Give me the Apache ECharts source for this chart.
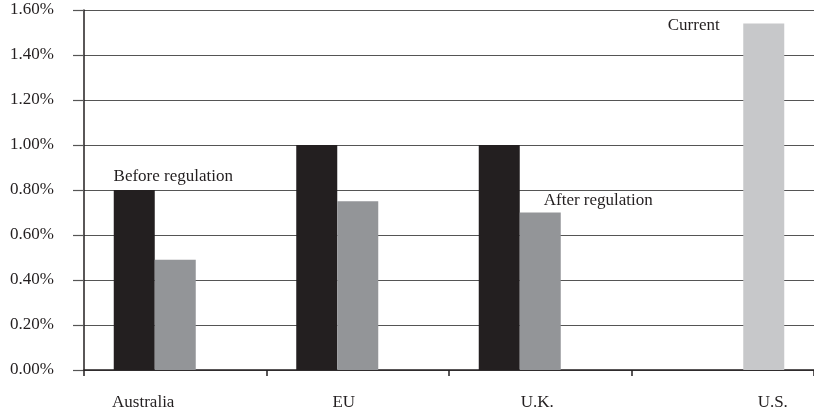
<!DOCTYPE html>
<html>
<head>
<meta charset="utf-8">
<script src="https://cdn.jsdelivr.net/npm/echarts@6/dist/echarts.min.js"></script>
<style>
  html, body { margin: 0; padding: 0; background: #fff; }
  #chart { width: 814px; height: 412px; }
</style>
</head>
<body>
<div id="chart"></div>
<script>
// Fee levels by market, in percent
const categories = ['Australia', 'EU', 'U.K.', 'U.S.'];
const beforeRegulation = [0.80, 1.00, 1.00, null];
const afterRegulation = [0.49, 0.75, 0.70, null];
const current = [null, null, null, 1.54];
const yTicks = [0, 0.2, 0.4, 0.6, 0.8, 1.0, 1.2, 1.4, 1.6];

const FONT = '"Liberation Serif", "Times New Roman", serif';
const INK = '#231f20';

// Which bar in each series carries the series name, and where it sits
function labelled(values, idx, labelOpts) {
  return values.map((v, i) => i === idx
    ? { value: v, label: Object.assign({ show: true, formatter: '{a}' }, labelOpts) }
    : v);
}

// Per-category shift of the axis labels (rich-text padding)
const labelShift = {
  'Australia': [0, 64, 0, 0],
  'EU': [0, 28, 0, 0],
  'U.K.': [0, 6, 0, 0],
  'U.S.': [0, 0, 0, 100]
};
const richStyles = {};
categories.forEach((c, i) => {
  richStyles['c' + i] = { padding: labelShift[c], fontFamily: FONT, fontSize: 17, color: INK };
});

const chart = echarts.init(document.getElementById('chart'), null, { renderer: 'canvas' });
chart.setOption({
  animation: false,
  backgroundColor: '#fff',
  grid: { left: 84, right: -5, top: 10, bottom: 42, containLabel: false },
  xAxis: {
    type: 'category',
    data: categories,
    axisLine: { lineStyle: { color: INK, width: 1.5 } },
    axisTick: { show: true, length: 6, lineStyle: { color: INK, width: 1.5 } },
    axisLabel: {
      margin: 24,
      formatter: (v) => '{c' + categories.indexOf(v) + '|' + v + '}',
      rich: richStyles
    }
  },
  yAxis: {
    type: 'value',
    min: yTicks[0],
    max: yTicks[yTicks.length - 1],
    interval: 0.2,
    axisLine: { show: true, lineStyle: { color: INK, width: 1.5 } },
    axisTick: { show: true, length: 11, lineStyle: { color: '#555', width: 1.2 } },
    splitLine: { show: true, lineStyle: { color: '#555', width: 1.2 } },
    axisLabel: {
      margin: 30,
      fontFamily: FONT,
      fontSize: 17,
      color: INK,
      formatter: (v) => v.toFixed(2) + '%'
    }
  },
  series: [
    {
      name: 'Before regulation',
      type: 'bar',
      barWidth: 41,
      barGap: '0%',
      itemStyle: { color: '#231f20' },
      label: { fontFamily: FONT, fontSize: 17, color: INK },
      data: labelled(beforeRegulation, 0, { position: 'top', distance: 5, offset: [39, 0] })
    },
    {
      name: 'After regulation',
      type: 'bar',
      barWidth: 41,
      barGap: '0%',
      itemStyle: { color: '#939598' },
      label: { fontFamily: FONT, fontSize: 17, color: INK },
      data: labelled(afterRegulation, 2, { position: 'top', distance: 3, offset: [58, 0] })
    },
    {
      name: 'Current',
      type: 'bar',
      barWidth: 41,
      barGap: '0%',
      itemStyle: { color: '#c7c8ca' },
      label: { fontFamily: FONT, fontSize: 17, color: INK },
      data: labelled(current, 3, { position: 'top', distance: 5, offset: [-70, 16] })
    }
  ]
});
</script>
</body>
</html>
